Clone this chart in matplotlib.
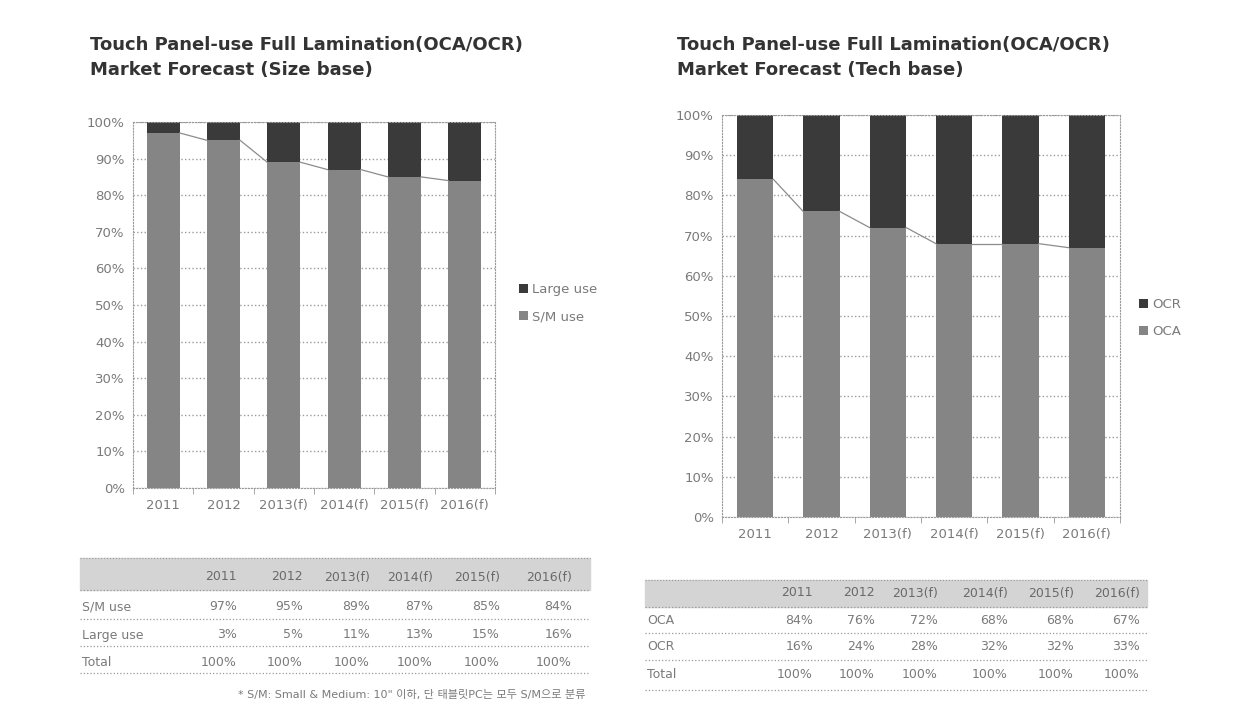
import matplotlib
matplotlib.use("Agg")
import matplotlib.pyplot as plt
from matplotlib.patches import Rectangle

plt.rcParams['font.family'] = ['DejaVu Sans', 'Noto Sans CJK KR']

# Dane
lata = ["2011", "2012", "2013(f)", "2014(f)", "2015(f)", "2016(f)"]
sm_use = [97, 95, 89, 87, 85, 84]
large_use = [3, 5, 11, 13, 15, 16]
oca = [84, 76, 72, 68, 68, 67]
ocr = [16, 24, 28, 32, 32, 33]
suma = [100, 100, 100, 100, 100, 100]

tytul_lewy = "Touch Panel-use Full Lamination(OCA/OCR)\nMarket Forecast (Size base)"
tytul_prawy = "Touch Panel-use Full Lamination(OCA/OCR)\nMarket Forecast (Tech base)"
przypis = "* S/M: Small & Medium: 10\" 이하, 단 태블릿PC는 모두 S/M으로 분류"

KOLOR_DOL = "#858585"
KOLOR_GORA = "#3a3a3a"
KOLOR_TEKST = "#7a7a7a"
W, H = 1237, 707

fig = plt.figure(figsize=(W / 100, H / 100), dpi=100)


def px(x0, y0, x1, y1):
    # prostokat w pikselach -> wspolrzedne figury
    return [x0 / W, 1 - y1 / H, (x1 - x0) / W, (y1 - y0) / H]


def wykres(ax, dol, gora, etykieta_dol, etykieta_gora, bbox):
    x = list(range(len(lata)))
    szer = 0.55
    b1 = ax.bar(x, dol, szer, color=KOLOR_DOL, label=etykieta_dol, zorder=2)
    b2 = ax.bar(x, gora, szer, bottom=dol, color=KOLOR_GORA, label=etykieta_gora, zorder=2)
    # linie laczace (series lines)
    for i in range(len(x) - 1):
        ax.plot([x[i] + szer / 2, x[i + 1] - szer / 2], [dol[i], dol[i + 1]],
                color="#8c8c8c", lw=0.9, zorder=3)
    ax.set_xlim(-0.45, len(x) - 0.55)
    ax.set_ylim(0, 100)
    ax.set_yticks(range(0, 101, 10))
    ax.set_yticklabels([f"{v}%" for v in range(0, 101, 10)])
    ax.set_xticks(x)
    ax.set_xticklabels(lata)
    ax.set_xticks([i + 0.5 for i in range(-1, len(x))], minor=True)
    ax.tick_params(axis="x", which="major", length=0, pad=8)
    ax.tick_params(axis="x", which="minor", length=4, color="#999999", direction="out")
    ax.tick_params(axis="y", length=0, pad=6)
    ax.tick_params(colors=KOLOR_TEKST, labelsize=9.5)
    ax.grid(axis="y", linestyle=":", color="#9a9a9a", lw=1, zorder=0)
    for s in ax.spines.values():
        s.set_linestyle(":")
        s.set_color("#9a9a9a")
    ax.legend([b2, b1], [etykieta_gora, etykieta_dol], frameon=False,
              bbox_to_anchor=bbox, bbox_transform=fig.transFigure, loc="center left",
              handlelength=0.7, handleheight=0.7, handletextpad=0.3,
              labelspacing=1.1, fontsize=9.5, labelcolor=KOLOR_TEKST)


ax1 = fig.add_axes(px(133, 122, 495, 488))
wykres(ax1, sm_use, large_use, "S/M use", "Large use", (507 / W, 1 - 303 / H))
ax2 = fig.add_axes(px(722, 115, 1120, 517))
wykres(ax2, oca, ocr, "OCA", "OCR", (1127 / W, 1 - 318 / H))

fig.text(90 / W, 1 - 36 / H, tytul_lewy, fontsize=13, fontweight="bold",
         color="#333333", va="top", ha="left", linespacing=1.5)
fig.text(677 / W, 1 - 36 / H, tytul_prawy, fontsize=13, fontweight="bold",
         color="#333333", va="top", ha="left", linespacing=1.5)


def tabela(x0, x1, y_nag, y_wierszy, linie, kolumny_x, wiersze):
    # naglowek
    fig.patches.append(Rectangle((x0 / W, 1 - linie[0] / H), (x1 - x0) / W,
                                 (linie[0] - y_nag[0]) / H, transform=fig.transFigure,
                                 color="#d4d4d4", zorder=0))
    for xc, rok in zip(kolumny_x, lata):
        fig.text(xc / W, 1 - y_nag[1] / H, rok, fontsize=9, color="#6a6a6a",
                 ha="right", va="center")
    fig.add_artist(plt.Line2D([x0 / W, x1 / W], [1 - y_nag[0] / H] * 2,
                              transform=fig.transFigure, color="#999999", lw=0.8, ls=":"))
    for yl in linie:
        fig.add_artist(plt.Line2D([x0 / W, x1 / W], [1 - yl / H] * 2,
                                  transform=fig.transFigure, color="#999999", lw=0.9, ls=":"))
    for yw, (nazwa, wart) in zip(y_wierszy, wiersze):
        fig.text((x0 + 2) / W, 1 - yw / H, nazwa, fontsize=9, color=KOLOR_TEKST,
                 ha="left", va="center")
        for xc, v in zip(kolumny_x, wart):
            fig.text(xc / W, 1 - yw / H, f"{v}%", fontsize=9, color=KOLOR_TEKST,
                     ha="right", va="center")


tabela(80, 590, (558, 577), [607, 635, 663], [590, 619, 646, 673],
       [237, 303, 370, 433, 500, 572],
       [("S/M use", sm_use), ("Large use", large_use), ("Total", suma)])
tabela(645, 1147, (580, 593), [620, 647, 675], [607, 633, 660, 690],
       [813, 875, 938, 1008, 1074, 1140],
       [("OCA", oca), ("OCR", ocr), ("Total", suma)])

fig.text(585 / W, 1 - 695 / H, przypis, fontsize=8, color=KOLOR_TEKST,
         ha="right", va="center")

fig.savefig("out.png", dpi=100)
